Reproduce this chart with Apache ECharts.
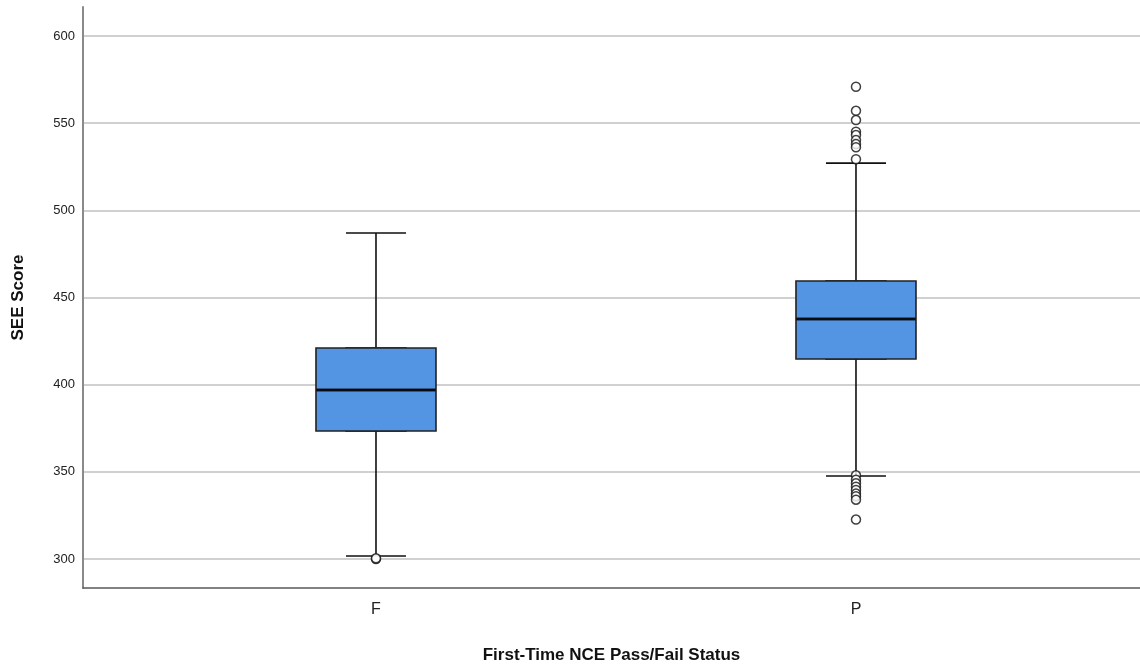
<!DOCTYPE html>
<html>
<head>
<meta charset="utf-8">
<script src="https://cdn.jsdelivr.net/npm/echarts@6/dist/echarts.min.js"></script>
<style>html,body{margin:0;padding:0;background:#fff}#c{width:1140px;height:667px}</style>
</head>
<body>
<div id="c"></div>
<script>
const categories = ['F', 'P'];
// [min whisker, Q1, median, Q3, max whisker]
const boxStats = [
  [301.7, 373.4, 397.0, 421.0, 487.0],
  [347.6, 414.7, 437.7, 459.5, 527.1]
];
const outliersF = [300.0, 300.4];
const outliersP = [570.9, 557.1, 551.8, 545.1, 543.2, 540.3, 538.0, 536.2, 529.3,
                   348.0, 345.5, 343.4, 341.5, 339.6, 337.5, 336.0, 334.0, 322.6];
const yTicks = [300, 350, 400, 450, 500, 550, 600];

const whiskerData = boxStats.map((s, i) => [i].concat(s));
const bodyData = boxStats.map((s, i) => [i, s[1], s[1], s[2], s[3], s[3]]);
const medianData = boxStats.map((s, i) => [i, s[2]]);
const outlierData = outliersF.map(v => [0, v]).concat(outliersP.map(v => [1, v]));

const font = '"Liberation Sans", Arial, sans-serif';
const xBase = {
  type: 'value', min: -0.6104, max: 1.5917,
  splitLine: { show: false }
};
const chart = echarts.init(document.getElementById('c'));
chart.setOption({
  animation: false,
  grid: { left: 83, right: 0, top: 7, bottom: 79, containLabel: false, outerBoundsMode: 'none' },
  xAxis: [
    Object.assign({}, xBase, {
      name: 'First-Time NCE Pass/Fail Status',
      nameLocation: 'middle', nameGap: 59,
      nameTextStyle: { fontFamily: font, fontSize: 17, fontWeight: 'bold', color: '#111' },
      axisLine: { show: true, onZero: false, lineStyle: { color: '#5a5a5a', width: 1.5 } },
      axisTick: { show: false, customValues: [0, 1] },
      axisLabel: { customValues: [0, 1], formatter: v => categories[Math.round(v)],
        fontFamily: font, fontSize: 16, color: '#222', margin: 14 }
    }),
    Object.assign({}, xBase, { show: false })
  ],
  yAxis: {
    type: 'value', min: 283.35, max: 616.65,
    name: 'SEE Score', nameLocation: 'middle', nameGap: 56,
    nameTextStyle: { fontFamily: font, fontSize: 17, fontWeight: 'bold', color: '#111' },
    axisLine: { show: true, onZero: false, lineStyle: { color: '#8a8a8a', width: 2 } },
    axisTick: { show: false, customValues: yTicks },
    axisLabel: { customValues: yTicks, fontFamily: font, fontSize: 13, color: '#222', margin: 8 },
    splitLine: { show: true, lineStyle: { color: '#d0d0d0', width: 2 } }
  },
  series: [
    {
      type: 'boxplot', xAxisIndex: 1, data: whiskerData, boxWidth: [60, 60], z: 2,
      itemStyle: { color: '#ffffff', borderColor: '#111', borderWidth: 1.6 }
    },
    {
      type: 'boxplot', xAxisIndex: 0, data: bodyData, boxWidth: [120, 120], z: 3,
      itemStyle: { color: '#5394e3', borderColor: '#222', borderWidth: 1.6 }
    },
    {
      type: 'scatter', xAxisIndex: 0, data: medianData, symbol: 'rect', symbolSize: [119, 3], z: 4,
      itemStyle: { color: '#000' }
    },
    {
      type: 'scatter', xAxisIndex: 0, data: outlierData, symbol: 'circle', symbolSize: 9, z: 5,
      itemStyle: { color: '#ffffff', borderColor: '#111', borderWidth: 1.5 }
    }
  ]
});
</script>
</body>
</html>
